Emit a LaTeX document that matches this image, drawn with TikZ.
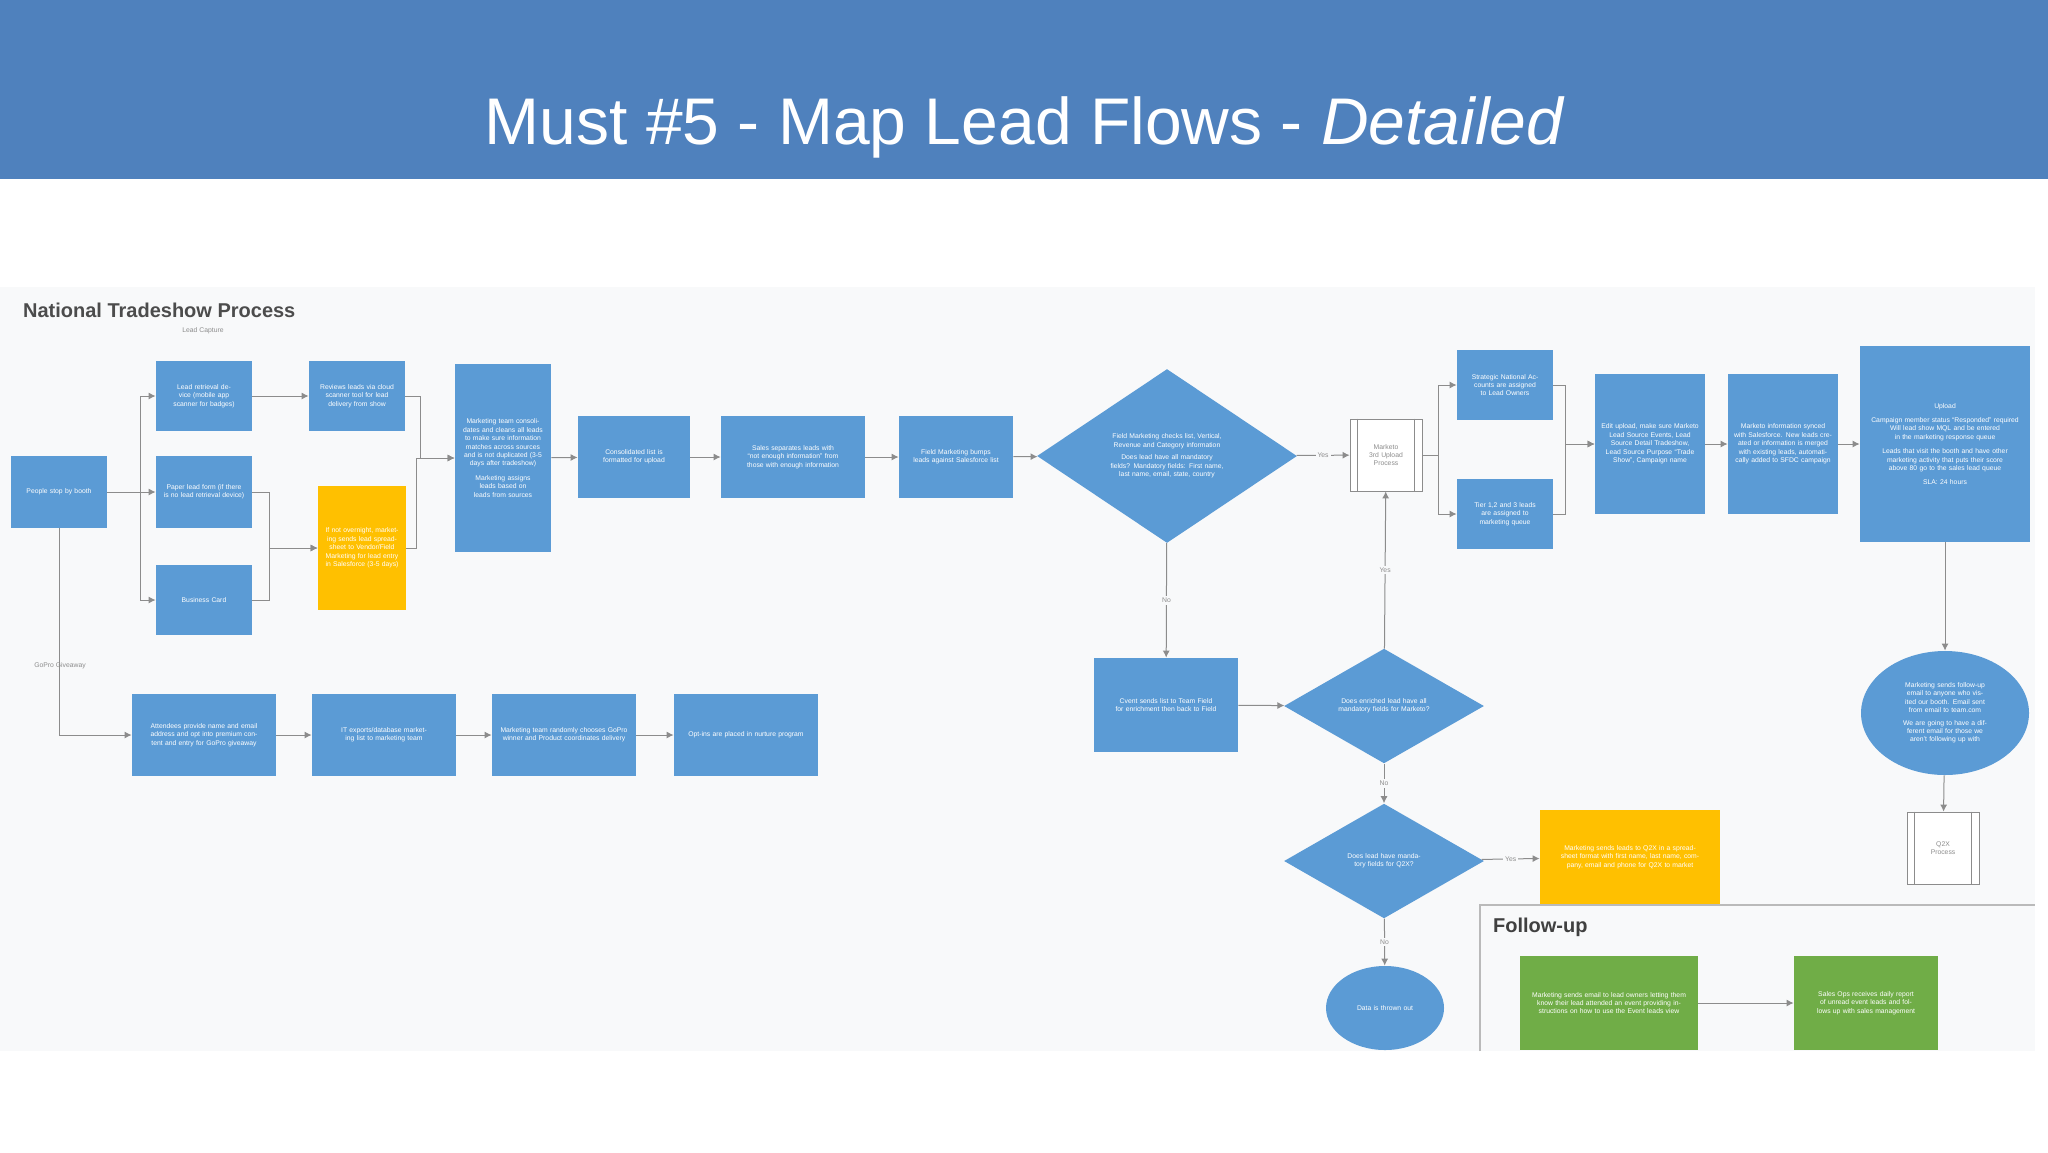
\documentclass[tikz,border=0pt]{standalone}
\usepackage{fontspec}
\setmainfont{Liberation Sans}
\usetikzlibrary{positioning}
\usetikzlibrary{arrows.meta}
\usetikzlibrary{shapes.geometric}
\definecolor{hdr}{HTML}{4F81BD}
\definecolor{bblue}{HTML}{5B9BD5}
\definecolor{byel}{HTML}{FFC000}
\definecolor{bgrn}{HTML}{70AD47}
\definecolor{lgray}{HTML}{8C8C8C}
\definecolor{paper}{HTML}{F8F9FA}

\begin{document}
\begin{tikzpicture}[ x = 0.5pt, y = -0.5pt
                     , >={Latex[width=0.35em, length=0.35em]}
                     , every node/.style = { align = center
                                           , font = \fontsize{3.4}{4.2}\selectfont
                                           , text = white }
                     , box/.style 2 args = { rectangle, fill = bblue
                                           , inner xsep = 3pt
                                           , text width = #1
                                           , minimum height = #2 }
                     , ybox/.style 2 args = { box = {#1}{#2}, fill = byel }
                     , gbox/.style 2 args = { box = {#1}{#2}, fill = bgrn }
                     , dec/.style 2 args = { diamond, fill = bblue, inner sep = 0pt
                                           , minimum width = #1, minimum height = #2
                                           , text width = 0.5*#1 }
                     , oval/.style 2 args = { ellipse, fill = bblue, inner sep = 1pt
                                            , minimum width = #1, minimum height = #2
                                            , text width = 0.6*#1 }
                     , sub/.style = { rectangle, draw = lgray, fill = white
                                    , text = lgray, minimum width = 36pt
                                    , minimum height = 36pt, text width = 20pt }
                     , flow/.style = { draw = lgray, line width = 0.5pt, -> }
                     , lbl/.style = { text = lgray, fill = paper, inner sep = 1pt }
                     ]

  \useasboundingbox (0,0) rectangle (2048,1152);
  \fill[white] (0,0) rectangle (2048,1152);
  \fill[paper] (0,287) rectangle (2035,1051);

  %%
  %% Title
  %%
  \fill[hdr] (0,0) rectangle (2048,179);
  \node (title) at (1025,127) [font = \fontsize{33}{38}\selectfont]
        {Must \#5 - Map Lead Flows - \textit{Detailed}};
  \node (ntp) at (16,310) [anchor = west, text = black!70,
        font = \fontsize{10}{12}\selectfont\bfseries] {National Tradeshow Process};
  \node (lcap) at (203,331) [text = lgray] {Lead Capture};

  %%
  %% Lead capture
  %%
  \node (people) at (59,492)  [box = {42pt}{36pt}] {People stop by booth};
  \node (lrd)    at (204,396) [box = {42pt}{35pt}] {Lead retrieval device (mobile app scanner for badges)};
  \node (paper)  at (204,492) [box = {42pt}{36pt}] {Paper lead form (if there is no lead retrieval device)};
  \node (bcard)  at (204,600) [box = {42pt}{35pt}] {Business Card};
  \node (review) at (357,396) [box = {42pt}{35pt}] {Reviews leads via cloud scanner tool for lead delivery from show};
  \node (manual) at (362,548) [ybox = {38pt}{62pt}] {If not overnight, marketing sends lead spreadsheet to Vendor/Field Marketing for lead entry in Salesforce (3-5 days)};
  \node (mkt)    at (503,458) [box = {42pt}{94pt}] {Marketing team consolidates and cleans all leads to make sure information matches across sources and is not duplicated (3-5 days after tradeshow)\\[3pt] Marketing assigns leads based on leads from sources};
  \node (consol) at (634,457) [box = {50pt}{41pt}] {Consolidated list is formatted for upload};
  \node (sales)  at (793,457) [box = {66pt}{41pt}] {Sales separates leads with ``not enough information'' from those with enough information};
  \node (bump)   at (956,457) [box = {51pt}{41pt}] {Field Marketing bumps leads against Salesforce list};
  \node (mand)   at (1167,456) [dec = {130pt}{84pt}] {Field Marketing checks list, Vertical, Revenue and Category information\\[2pt] Does lead have all mandatory fields? Mandatory fields: First name, last name, email, state, country};
  \node (sp1)    at (1386,455) [sub] {Marketo 3rd Upload Process};
  \draw[lgray] ([xshift=4pt]sp1.north west) -- ([xshift=4pt]sp1.south west)
               ([xshift=-4pt]sp1.north east) -- ([xshift=-4pt]sp1.south east);
  \node (strat)  at (1505,385) [box = {42pt}{35pt}] {Strategic National Accounts are assigned to Lead Owners};
  \node (tier)   at (1505,514) [box = {42pt}{35pt}] {Tier 1,2 and 3 leads are assigned to marketing queue};
  \node (edit)   at (1650,444) [box = {49pt}{70pt}] {Edit upload, make sure Marketo Lead Source Events, Lead Source Detail Tradeshow, Lead Source Purpose ``Trade Show'', Campaign name};
  \node (merge)  at (1783,444) [box = {49pt}{70pt}] {Marketo information synced with Salesforce. New leads created or information is merged with existing leads, automatically added to SFDC campaign};
  \node (upload) at (1945,444) [box = {79pt}{98pt}] {Upload\\[3pt] Campaign member status ``Responded'' required\\ Will lead show MQL and be entered in the marketing response queue\\[3pt] Leads that visit the booth and have other marketing activity that puts their score above 80 go to the sales lead queue\\[3pt] SLA: 24 hours};
  \node (thank)  at (1945,713) [oval = {84pt}{62pt}] {Marketing sends follow-up email to anyone who visited our booth. Email sent from email to team.com\\[2pt] We are going to have a different email for those we aren't following up with};
  \node (qx)     at (1943,848) [sub] {Q2X Process};
  \draw[lgray] ([xshift=4pt]qx.north west) -- ([xshift=4pt]qx.south west)
               ([xshift=-4pt]qx.north east) -- ([xshift=-4pt]qx.south east);

  %%
  %% Missing fields
  %%
  \node (cvent)  at (1166,705) [box = {66pt}{47pt}] {Cvent sends list to Team Field for enrichment then back to Field};
  \node (enrich) at (1384,706) [dec = {100pt}{44pt}] {Does enriched lead have all mandatory fields for Marketo?};
  \node (q2x)    at (1384,861) [dec = {100pt}{51pt}] {Does lead have mandatory fields for Q2X?};
  \node (q2xlst) at (1630,857) [ybox = {84pt}{47pt}] {Marketing sends leads to Q2X in a spreadsheet format with first name, last name, company, email and phone for Q2X to market};
  \node (tossed) at (1385,1008) [oval = {59pt}{42pt}] {Data is thrown out};

  %%
  %% GoPro giveaway
  %%
  \node (gopro)  at (60,666) [text = lgray] {GoPro Giveaway};
  \node (enter)  at (204,735) [box = {66pt}{41pt}] {Attendees provide name and email address and opt into premium content and entry for GoPro giveaway};
  \node (export) at (384,735) [box = {66pt}{41pt}] {IT exports/database marketing list to marketing team};
  \node (winner) at (564,735) [box = {66pt}{41pt}] {Marketing team randomly chooses GoPro winner and Product coordinates delivery};
  \node (nurture)at (746,735) [box = {66pt}{41pt}] {Opt-ins are placed in nurture program};

  %%
  %% Follow-up
  %%
  \coordinate (fa) at (1480,1051);
  \coordinate (fb) at (1480,905);
  \coordinate (fc) at (2035,905);
  \draw[lgray!60, line width = 0.8pt] (fa) -- (fb) -- (fc);
  \node (fup)   at (1486,927) [anchor = west, text = black!75,
        font = \fontsize{10}{12}\selectfont\bfseries] {Follow-up};
  \node (owner) at (1609,1003) [gbox = {83pt}{47pt}] {Marketing sends email to lead owners letting them know their lead attended an event providing instructions on how to use the Event leads view};
  \node (daily) at (1866,1003) [gbox = {66pt}{47pt}] {Sales Ops receives daily report of unread event leads and follows up with sales management};

  %%
  %% Connectors
  %%
  \draw[flow] (people.east) -- ++(33,0) |- (lrd);
  \draw[flow] (people) -- (paper);
  \draw[flow] (people.east) -- ++(33,0) |- (bcard);
  \draw[flow] (people.south) |- (enter);
  \draw[flow] (lrd) -- (review);
  \draw[flow] (paper.east) -- ++(17,0) |- (manual.west);
  \draw[flow] (bcard.east) -- ++(17,0) |- (manual.west);
  \draw[flow] (review.east) -- ++(15,0) |- (mkt.west);
  \draw[flow] (manual.east) -- ++(10,0) |- (mkt.west);
  \draw[flow] (mkt) -- (consol);
  \draw[flow] (consol) -- (sales);
  \draw[flow] (sales) -- (bump);
  \draw[flow] (bump) -- (mand);
  \draw[flow] (mand) -- node[lbl] {Yes} (sp1);
  \draw[flow] (mand) -- node[lbl] {No} (cvent);
  \draw[flow] (cvent) -- (enrich);
  \draw[flow] (enrich) -- node[lbl] {Yes} (sp1);
  \draw[flow] (enrich) -- node[lbl] {No} (q2x);
  \draw[flow] (q2x) -- node[lbl] {Yes} (q2xlst);
  \draw[flow] (q2x) -- node[lbl] {No} (tossed);
  \draw[flow] (sp1.east) -- ++(16,0) |- (strat);
  \draw[flow] (sp1.east) -- ++(16,0) |- (tier);
  \draw[flow] (strat.east) -- ++(12,0) |- (edit.west);
  \draw[flow] (tier.east) -- ++(12,0) |- (edit.west);
  \draw[flow] (edit) -- (merge);
  \draw[flow] (merge) -- (upload);
  \draw[flow] (upload) -- (thank);
  \draw[flow] (thank) -- (qx);
  \draw[flow] (enter) -- (export);
  \draw[flow] (export) -- (winner);
  \draw[flow] (winner) -- (nurture);
  \draw[flow] (owner) -- (daily);
\end{tikzpicture}
\end{document}
